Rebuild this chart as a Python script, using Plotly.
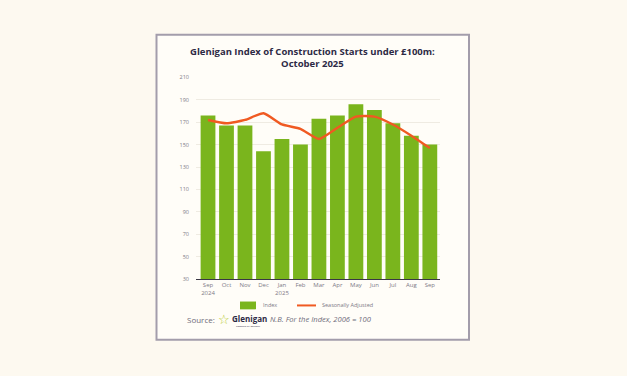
import plotly.graph_objects as go

months = ["Sep", "Oct", "Nov", "Dec", "Jan", "Feb", "Mar", "Apr", "May", "Jun", "Jul", "Aug", "Sep"]
tick_labels = ["Sep<br>2024", "Oct", "Nov", "Dec", "Jan<br>2025", "Feb", "Mar", "Apr", "May", "Jun", "Jul", "Aug", "Sep"]
index_values = [176, 167, 167, 144, 155, 150, 173, 176, 186, 181, 169, 158, 150]
seasonally_adjusted = [172, 169, 172, 178, 168, 164, 155, 165, 175, 175, 168, 158, 147]
y_ticks = [30, 50, 70, 90, 110, 130, 150, 170, 190, 210]

W, H = 627, 376
def px(x):
    return x / W
def py(y):
    return 1 - y / H

pos = list(range(len(months)))
GREEN = "#7ab51d"
ORANGE = "#f05a22"
NAVY = "#2d2a45"
GREY = "#7d7a86"
FONT = "Open Sans, sans-serif"

fig = go.Figure()
fig.add_trace(go.Bar(x=pos, y=index_values, marker=dict(color=GREEN, line=dict(width=0)),
                     name="Index", showlegend=False))
fig.add_trace(go.Scatter(x=pos, y=seasonally_adjusted, mode="lines",
                         line=dict(color=ORANGE, width=2.4, shape="spline", smoothing=0.5),
                         name="Seasonally Adjusted", showlegend=False))

fig.update_layout(
    width=W, height=H,
    margin=dict(l=0, r=0, t=0, b=0),
    paper_bgcolor="#fdf9f0",
    plot_bgcolor="rgba(0,0,0,0)",
    bargap=0.2,
    font=dict(family=FONT, color=GREY),
    xaxis=dict(domain=[px(196), px(440)], range=[-0.65, 12.55],
               tickmode="array", tickvals=pos, ticktext=tick_labels,
               tickfont=dict(size=6, color=GREY, family=FONT),
               showgrid=False, zeroline=False, showline=True, linecolor="#3a3744", linewidth=1.2,
               ticks="", ticklen=0, anchor="y"),
    yaxis=dict(domain=[py(281), py(75)], range=[30, 210],
               tickmode="array", tickvals=y_ticks,
               tickfont=dict(size=5.5, color=GREY, family=FONT),
               showgrid=True, gridcolor="#efebe2", gridwidth=1, zeroline=False,
               showline=False, ticks="", ticklabelstandoff=6),
)

# card
fig.add_shape(type="rect", xref="paper", yref="paper",
              x0=px(156.5), x1=px(469), y0=py(343), y1=py(31.5),
              line=dict(color="#a39dab", width=2), fillcolor="#fffdf8", layer="below")

# title
fig.add_annotation(xref="paper", yref="paper", x=px(312), y=py(55), xanchor="center", yanchor="middle",
                   text="<b>Glenigan Index of Construction Starts under £100m:<br>October 2025</b>",
                   showarrow=False, font=dict(size=9.5, color=NAVY, family=FONT),
                   align="center")

# legend
fig.add_shape(type="rect", xref="paper", yref="paper",
              x0=px(240), x1=px(256), y0=py(312), y1=py(304),
              fillcolor=GREEN, line=dict(width=0))
fig.add_annotation(xref="paper", yref="paper", x=px(261), y=py(308), xanchor="left", yanchor="middle",
                   text="Index", showarrow=False, font=dict(size=5.5, color=GREY))
fig.add_shape(type="line", xref="paper", yref="paper",
              x0=px(297), x1=px(316), y0=py(308), y1=py(308),
              line=dict(color=ORANGE, width=2))
fig.add_annotation(xref="paper", yref="paper", x=px(320), y=py(308), xanchor="left", yanchor="middle",
                   text="Seasonally Adjusted", showarrow=False, font=dict(size=5.5, color=GREY))

# source line
fig.add_annotation(xref="paper", yref="paper", x=px(185), y=py(322), xanchor="left", yanchor="middle",
                   text="Source:", showarrow=False, font=dict(size=8, color="#6f6c7a"))
fig.add_annotation(xref="paper", yref="paper", x=px(216), y=py(322), xanchor="left", yanchor="middle",
                   text="☆", showarrow=False, font=dict(size=13, color="#b5c92a", family="DejaVu Sans"))
fig.add_annotation(xref="paper", yref="paper", x=px(230), y=py(321), xanchor="left", yanchor="middle",
                   text="<b>Glenigan</b>", showarrow=False, font=dict(size=8, color=NAVY))
fig.add_annotation(xref="paper", yref="paper", x=px(234), y=py(329.5), xanchor="left", yanchor="middle",
                   text="Powered by Barbour", showarrow=False, font=dict(size=2.5, color=NAVY))
fig.add_annotation(xref="paper", yref="paper", x=px(268), y=py(322), xanchor="left", yanchor="middle",
                   text="<i>N.B. For the Index, 2006 = 100</i>", showarrow=False,
                   font=dict(size=7.6, color="#6f6c7a"))

fig.write_html("out.html", config={"displayModeBar": False},
               post_script="document.body.style.margin='0';document.body.style.padding='0';")
